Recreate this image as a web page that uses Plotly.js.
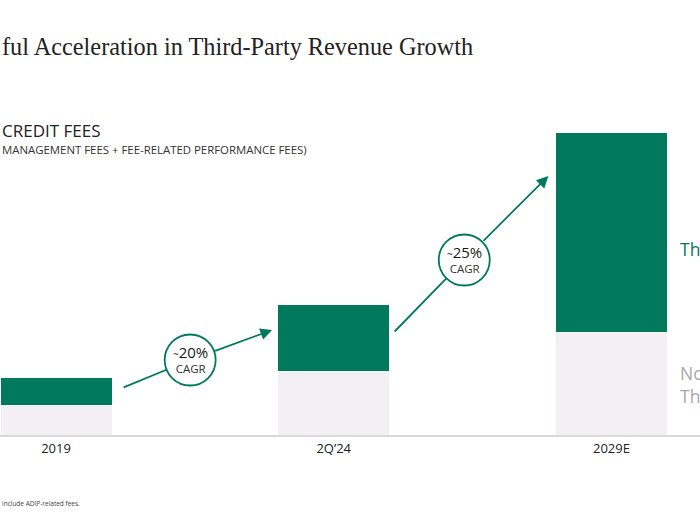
<!DOCTYPE html>
<html>
<head>
<meta charset="utf-8">
<script src="https://cdn.plot.ly/plotly-3.0.1.min.js"></script>
<style>
html,body{margin:0;padding:0;overflow:hidden;background:#fff;}
#chart{width:700px;height:525px;}
</style>
</head>
<body>
<div id="chart"></div>
<script>
// ---- data ----
var categories = ["2019", "2Q\u201924", "2029E"];
var nonThirdPartyFees = [30, 64, 103];
var thirdPartyFees = [27, 66, 199];
var cagrLabels = ["20%", "25%"];
var seriesNames = ["Non-Third-Party", "Third-Party"];

// ---- styles ----
var GREEN = "#00795c";
var LIGHT = "#f2f0f3";
var SANS = "Open Sans, Noto Sans, sans-serif";

var traces = [
  {type: "bar", name: seriesNames[0], x: categories, y: nonThirdPartyFees,
   width: 0.4, marker: {color: LIGHT, line: {width: 0}}, hoverinfo: "skip"},
  {type: "bar", name: seriesNames[1], x: categories, y: thirdPartyFees,
   width: 0.4, marker: {color: GREEN, line: {width: 0}}, hoverinfo: "skip"}
];

// helper positions in axis units (decorations)
var arrows = [
  {tail: [0.238, 47], mid: [0.483, 75], head: [0.778, 105], label: cagrLabels[0]},
  {tail: [1.214, 102], mid: [1.470, 175], head: [1.773, 259], label: cagrLabels[1]}
];

var shapes = [];
var annotations = [];
arrows.forEach(function(a){
  annotations.push({xref:"x", yref:"y", axref:"x", ayref:"y",
    x:a.mid[0], y:a.mid[1], ax:a.tail[0], ay:a.tail[1], text:"",
    showarrow:true, arrowhead:0, arrowwidth:1.8, arrowcolor:GREEN, standoff:25});
  annotations.push({xref:"x", yref:"y", axref:"x", ayref:"y",
    x:a.head[0], y:a.head[1], ax:a.mid[0], ay:a.mid[1], text:"",
    showarrow:true, arrowhead:2, arrowsize:1.3, arrowwidth:1.8, arrowcolor:GREEN, startstandoff:25});
  shapes.push({type:"circle", xref:"x", yref:"y", xsizemode:"pixel", ysizemode:"pixel",
    xanchor:a.mid[0], yanchor:a.mid[1], x0:-25.5, x1:25.5, y0:-25.5, y1:25.5,
    line:{color:GREEN, width:1.8}, fillcolor:"#ffffff", layer:"above"});
  annotations.push({xref:"x", yref:"y", x:a.mid[0], y:a.mid[1], yshift:1, showarrow:false,
    text:"<span style='font-size:15px;color:#1a1a1a'><span style='font-size:10px'>~</span>" + a.label + "</span><br>CAGR",
    font:{family:SANS, size:11.5, color:"#333"}});
});

// text annotations (paper coords)
function py(p){ return (435 - p) / 315; }
annotations.push({xref:"paper", yref:"paper", x:0, y:py(47), xanchor:"left", yanchor:"middle",
  showarrow:false, text:"ful Acceleration in Third-Party Revenue Growth",
  font:{family:"Liberation Serif, DejaVu Serif, serif", size:24.3, color:"#222"}});
annotations.push({xref:"paper", yref:"paper", x:0, y:py(130), xanchor:"left", yanchor:"middle",
  showarrow:false, text:"CREDIT FEES", font:{family:SANS, size:17, color:"#222"}});
annotations.push({xref:"paper", yref:"paper", x:0, y:py(149), xanchor:"left", yanchor:"middle",
  showarrow:false, text:"MANAGEMENT FEES + FEE-RELATED PERFORMANCE FEES)",
  font:{family:SANS, size:11.4, color:"#333"}});
annotations.push({xref:"paper", yref:"paper", x:678/700, y:py(249), xanchor:"left", yanchor:"middle",
  showarrow:false, text:seriesNames[1], font:{family:SANS, size:17.5, color:GREEN}});
annotations.push({xref:"paper", yref:"paper", x:678/700, y:py(384), xanchor:"left", yanchor:"middle",
  showarrow:false, text:"Non-<br>Third-Party", align:"left", font:{family:SANS, size:17.5, color:"#a8a8a8"}});
annotations.push({xref:"paper", yref:"paper", x:0, y:py(503), xanchor:"left", yanchor:"middle",
  showarrow:false, text:"include ADIP-related fees.", font:{family:SANS, size:6.5, color:"#444"}});

var layout = {
  width: 700, height: 525,
  margin: {l: 0, r: 0, t: 120, b: 90, pad: 0},
  paper_bgcolor: "#ffffff", plot_bgcolor: "#ffffff",
  barmode: "stack",
  showlegend: false,
  xaxis: {type: "category", range: [-0.2018, 2.3189], showgrid: false, zeroline: false,
    showline: true, linecolor: "#d9d9d9", linewidth: 2, ticks: "",
    tickfont: {family: SANS, size: 13, color: "#222"}, fixedrange: true},
  yaxis: {range: [0, 315], visible: false, showgrid: false, zeroline: false, fixedrange: true},
  shapes: shapes,
  annotations: annotations
};

Plotly.newPlot("chart", traces, layout, {displayModeBar: false, staticPlot: true});
</script>
</body>
</html>
